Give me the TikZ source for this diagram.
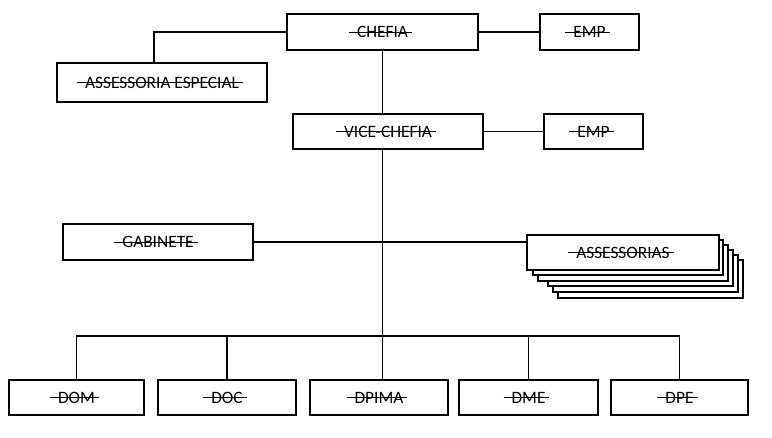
\documentclass[tikz,border=0pt]{standalone}
\usepackage{fontspec}
\setmainfont{Carlito}
\newsavebox\skbox
\newlength\sklen
\newcommand\sk[1]{\sbox\skbox{#1}\setlength\sklen{\wd\skbox}\addtolength\sklen{9pt}%
\makebox[0pt][l]{\hspace*{-6pt}\rule[3.8pt]{\sklen}{0.75pt}}\usebox\skbox}
\tikzset{
  orgbox/.style={draw=black, line width=1.5pt, fill=white, inner sep=0pt,
    minimum height=26.5pt, font=\fontsize{13pt}{15pt}\selectfont},
  conn/.style={draw=black, line width=1.2pt},
  stackbox/.style={draw=black, line width=1.5pt, fill=white}
}
\begin{document}
\begin{tikzpicture}[x=0.75pt,y=-0.75pt]
\useasboundingbox (0,0) rectangle (772,437);
% top level
\node[orgbox, minimum width=143pt] (chefia) at (382.5,32) {\sk{CHEFIA}};
\node[orgbox, minimum width=74pt] (emp1) at (589.5,32) {\sk{EMP}};
\node[orgbox, minimum width=157pt, minimum height=29pt] (assesp) at (162,82.5) {\sk{ASSESSORIA ESPECIAL}};
\node[orgbox, minimum width=142.5pt] (vice) at (388,131.5) {\sk{VICE-CHEFIA}};
\node[orgbox, minimum width=74pt] (emp2) at (593.5,131.5) {\sk{EMP}};
\node[orgbox, minimum width=142.5pt] (gab) at (158,242) {\sk{GABINETE}};
% stacked assessorias
\draw[stackbox] (558,260) rectangle (743,298);
\draw[stackbox] (553,255) rectangle (738,292);
\draw[stackbox] (548,250) rectangle (733,286);
\draw[stackbox] (538,245) rectangle (728,281);
\draw[stackbox] (533,240) rectangle (723,275);
\node[orgbox, minimum width=144pt] (ass) at (623,252.5) {\sk{ASSESSORIAS}};
% bottom row
\node[orgbox, minimum width=101pt] (dom) at (76.5,397.5) {\sk{DOM}};
\node[orgbox, minimum width=103.5pt] (doc) at (227,397.5) {\sk{DOC}};
\node[orgbox, minimum width=103.5pt] (dpima) at (379,397.5) {\sk{DPIMA}};
\node[orgbox, minimum width=104pt] (dme) at (528.5,397.5) {\sk{DME}};
\node[orgbox, minimum width=103pt] (dpe) at (679.5,397.5) {\sk{DPE}};
\coordinate (bus) at (384,336);
% connectors
\draw[conn] (chefia.west) -| ([xshift=-6pt]assesp.north);
\draw[conn] (chefia.east) -- (emp1.west);
\draw[conn] (chefia.south) -- (chefia.south |- vice.north);
\draw[conn] (vice.east) -- (emp2.west);
\draw[conn] (chefia.south |- vice.south) -- (chefia.south |- dpima.north);
\draw[conn] (gab.east) -- (ass.west |- gab.east);
\draw[conn] (dom.north) |- (bus) -| (dpe.north);
\draw[conn] (doc.north) -- (doc.north |- bus);
\draw[conn] (dme.north) -- (dme.north |- bus);
\end{tikzpicture}
\end{document}
